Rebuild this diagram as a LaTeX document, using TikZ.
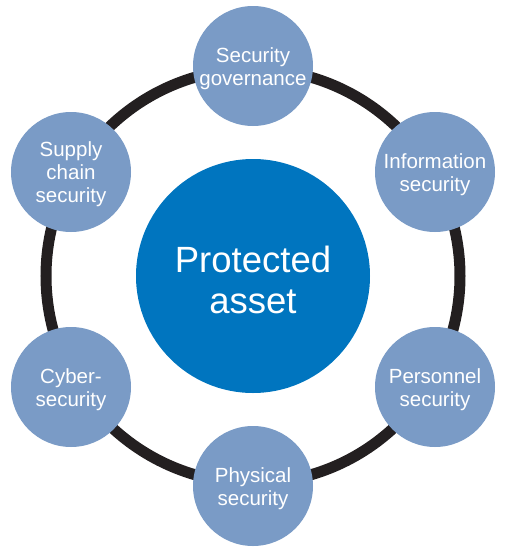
\documentclass[tikz,border=0pt]{standalone}
\usepackage{fontspec}
\setmainfont{Liberation Sans}
\definecolor{ringc}{HTML}{231F20}
\definecolor{smallc}{HTML}{7A9BC6}
\definecolor{bigc}{HTML}{0075BF}
\begin{document}
\begin{tikzpicture}[x=1pt,y=-1pt,
  smallcirc/.style={circle,fill=smallc,minimum size=120pt,inner sep=0pt},
  smalltext/.style={text=white,align=center,inner sep=0pt,yshift=-2.5pt,
    font=\fontsize{20.5}{23}\selectfont},
  bigcirc/.style={circle,fill=bigc,minimum size=234pt,inner sep=0pt},
  bigtext/.style={text=white,align=center,inner sep=0pt,yshift=-4pt,
    font=\fontsize{36.5}{41}\selectfont}]
\useasboundingbox (0,0) rectangle (505,555);
\coordinate (ctr) at (253,276);
\draw[ringc,line width=11pt] (ctr) circle[radius=207pt];
\node[bigcirc] (asset) at (ctr) {};
\node[bigtext] (assett) at (asset) {Protected\\asset};
\node[smallcirc] (gov) at (253,66) {};
\node[smalltext] (govt) at (gov) {Security\\governance};
\node[smallcirc] (info) at (435,172) {};
\node[smalltext] (infot) at (info) {Information\\security};
\node[smallcirc] (pers) at (435,387) {};
\node[smalltext] (perst) at (pers) {Personnel\\security};
\node[smallcirc] (phys) at (253,486) {};
\node[smalltext] (physt) at (phys) {Physical\\security};
\node[smallcirc] (cyber) at (71,387) {};
\node[smalltext] (cybert) at (cyber) {Cyber-\\security};
\node[smallcirc] (supply) at (71,172) {};
\node[smalltext] (supplyt) at (supply) {Supply\\chain\\security};
\end{tikzpicture}
\end{document}
